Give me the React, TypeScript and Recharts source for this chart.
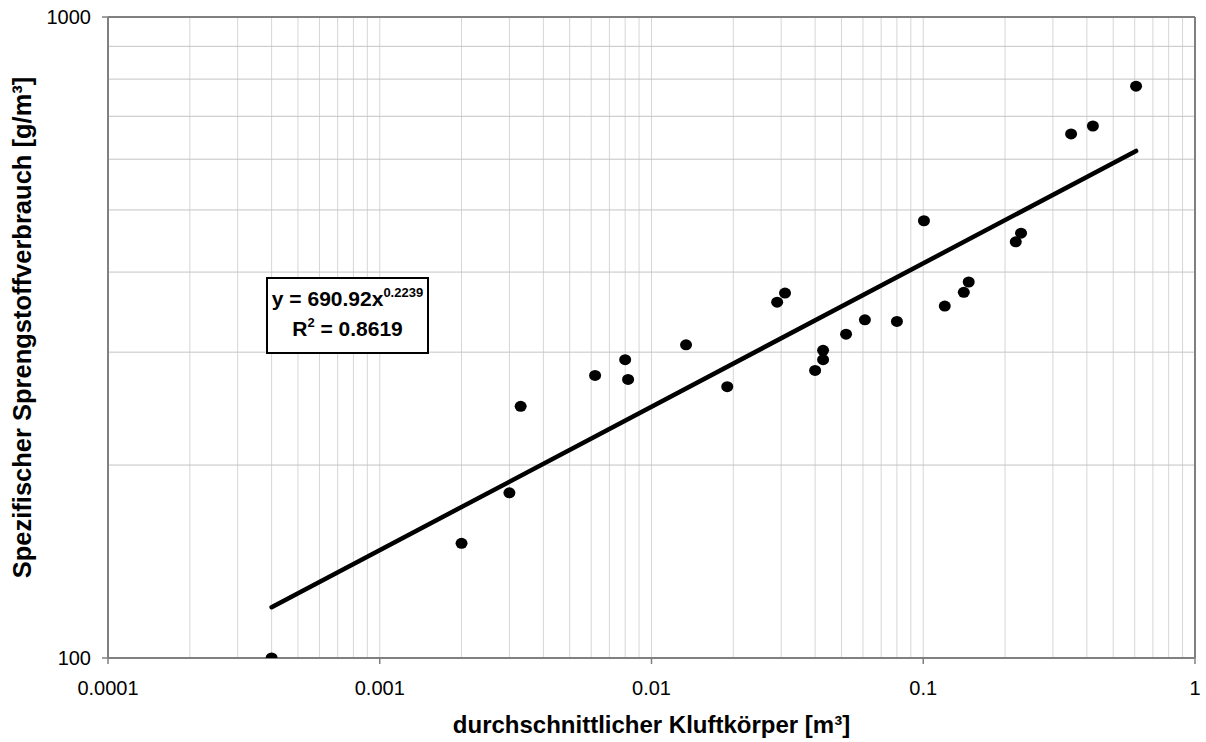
import React from "react";
import { ScatterChart, Scatter, XAxis, YAxis, CartesianGrid, ReferenceLine, Label } from "recharts";

// measured points (average block volume vs. specific explosive consumption)
const xValues = [
  0.0004, 0.002, 0.003, 0.0033, 0.0062, 0.008, 0.0082, 0.0134, 0.019, 0.029, 0.031, 0.04, 0.0428,
  0.0428, 0.052, 0.061, 0.08, 0.1006, 0.12, 0.141, 0.147, 0.219, 0.229, 0.35, 0.421, 0.607,
];
const yValues = [
  100, 151, 181, 247, 276, 292, 272, 308, 265, 359, 371, 281, 292, 302, 320, 337, 335, 481, 354,
  372, 386, 446, 460, 657, 676, 780,
];

// power trend line end points
const trendX = [0.0004, 0.607];
const trendY = [120, 618];

const xTicks = [
  0.0001, 0.0002, 0.0003, 0.0004, 0.0005, 0.0006, 0.0007, 0.0008, 0.0009,
  0.001, 0.002, 0.003, 0.004, 0.005, 0.006, 0.007, 0.008, 0.009,
  0.01, 0.02, 0.03, 0.04, 0.05, 0.06, 0.07, 0.08, 0.09,
  0.1, 0.2, 0.3, 0.4, 0.5, 0.6, 0.7, 0.8, 0.9, 1,
];
const xLabels = [0.0001, 0.001, 0.01, 0.1, 1];
const yTicks = [100, 200, 300, 400, 500, 600, 700, 800, 900, 1000];
const yLabels = [100, 1000];

const xTitle = "durchschnittlicher Kluftkörper [m³]";
const yTitle = "Spezifischer Sprengstoffverbrauch [g/m³]";
const eqText = "y = 690.92x";
const eqExp = "0.2239";
const r2Text = " = 0.8619";

const FONT = "'Liberation Sans', Arial, sans-serif";
const AXIS = "#808080";

const points = xValues.map((x, i) => ({ x, y: yValues[i] }));
const trend = trendX.map((x, i) => ({ x, y: trendY[i] }));

const XTick = (props: any) => {
  const { x, y, payload } = props;
  if (!xLabels.includes(payload.value)) return <g />;
  return (
    <g>
      <line x1={x} x2={x} y1={y - 8} y2={y - 2} stroke={AXIS} strokeWidth={1.5} />
      <text x={x} y={y + 29} textAnchor="middle" fontSize={20} fontFamily={FONT} fill="#000">
        {String(payload.value)}
      </text>
    </g>
  );
};

const YTick = (props: any) => {
  const { x, y, payload } = props;
  if (!yLabels.includes(payload.value)) return <g />;
  return (
    <g>
      <line x1={x + 2} x2={x + 8} y1={y} y2={y} stroke={AXIS} strokeWidth={1.5} />
      <text x={x - 9} y={y + 7} textAnchor="end" fontSize={20} fontFamily={FONT} fill="#000">
        {String(payload.value)}
      </text>
    </g>
  );
};

const XTitle = (props: any) => {
  const vb = props.viewBox;
  return (
    <text x={vb.x + vb.width / 2} y={vb.y + 75} textAnchor="middle" fontSize={24} fontWeight="bold" fontFamily={FONT} fill="#000">
      {xTitle}
    </text>
  );
};

const YTitle = (props: any) => {
  const vb = props.viewBox;
  const cx = 31;
  const cy = vb.y + vb.height / 2 - 10;
  return (
    <text x={cx} y={cy} transform={`rotate(-90 ${cx} ${cy})`} textAnchor="middle" fontSize={25.5} fontWeight="bold" fontFamily={FONT} fill="#000">
      {yTitle}
    </text>
  );
};

const Dot = (props: any) => <ellipse cx={props.cx} cy={props.cy} rx={6} ry={5.5} fill="#000" />;

export default function App() {
  return (
    <div style={{ position: "absolute", left: 0, top: 0, width: 1206, height: 742, background: "#fff", fontFamily: FONT }}>
      <ScatterChart width={1206} height={742} margin={{ top: 17, right: 11, left: 0, bottom: 0 }}>
        <CartesianGrid horizontal={false} stroke="#d6d6d6" strokeWidth={1} />
        <CartesianGrid vertical={false} stroke="#c4c4c4" strokeWidth={1} />
        <XAxis
          type="number"
          dataKey="x"
          scale="log"
          domain={[0.0001, 1]}
          ticks={xTicks}
          interval={0}
          allowDataOverflow
          height={84}
          tickSize={6}
          tickMargin={2}
          tickLine={false}
          tick={<XTick />}
          axisLine={{ stroke: AXIS, strokeWidth: 2 }}
        >
          <Label content={<XTitle />} />
        </XAxis>
        <YAxis
          type="number"
          dataKey="y"
          scale="log"
          domain={[100, 1000]}
          ticks={yTicks}
          interval={0}
          allowDataOverflow
          width={108}
          tickSize={6}
          tickMargin={2}
          tickLine={false}
          tick={<YTick />}
          axisLine={{ stroke: AXIS, strokeWidth: 2 }}
        >
          <Label content={<YTitle />} />
        </YAxis>
        <ReferenceLine y={1000} stroke={AXIS} strokeWidth={2} />
        <ReferenceLine x={1} stroke={AXIS} strokeWidth={2} />
        <Scatter
          data={trend}
          line={{ stroke: "#000", strokeWidth: 4.5, strokeLinecap: "round" }}
          shape={() => <g />}
          isAnimationActive={false}
        />
        <Scatter data={points} shape={<Dot />} isAnimationActive={false} />
      </ScatterChart>
      <div
        style={{
          position: "absolute",
          left: 266,
          top: 277,
          width: 159,
          height: 68,
          border: "2px solid #000",
          background: "#fff",
          fontWeight: "bold",
          fontSize: 21,
          textAlign: "center",
          lineHeight: "30px",
          paddingTop: 5,
          boxSizing: "content-box",
        }}
      >
        <div style={{ height: 30 }}>
          {eqText}
          <span style={{ fontSize: 13, position: "relative", top: -9, lineHeight: 0 }}>{eqExp}</span>
        </div>
        <div style={{ height: 30 }}>
          R<span style={{ fontSize: 13, position: "relative", top: -9, lineHeight: 0 }}>2</span>
          {r2Text}
        </div>
      </div>
    </div>
  );
}
